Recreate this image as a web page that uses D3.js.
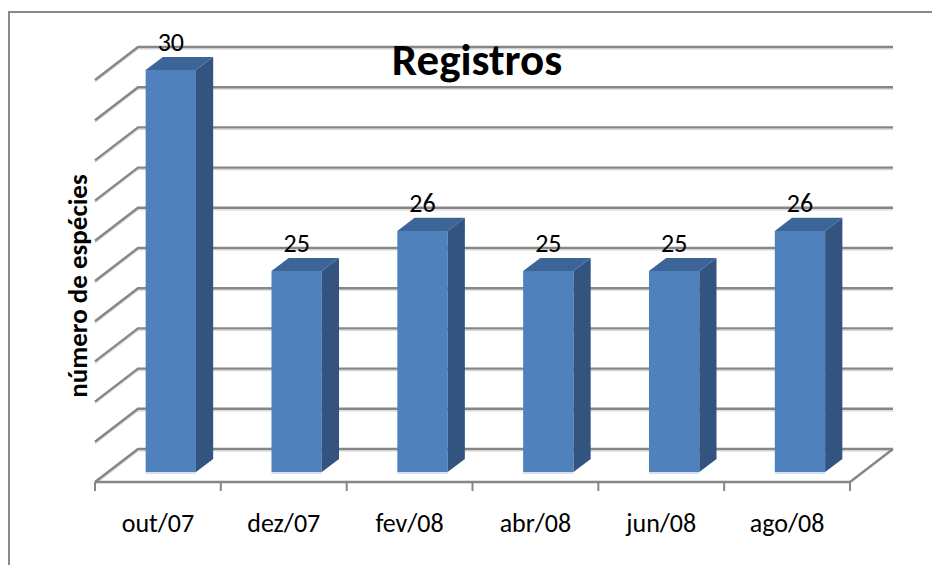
<!DOCTYPE html>
<meta charset="utf-8">
<head>
  <style>
    body { margin: 0; background: #fff; }
    text { font-family: Calibri, Carlito, Lato, sans-serif; fill: #000; }
  </style>
</head>
<body>
  <div class="chart"></div>
  <script src="https://d3js.org/d3.v7.min.js"></script>
  <script>
    // dados
    const categories = ["out/07", "dez/07", "fev/08", "abr/08", "jun/08", "ago/08"];
    const values = [30, 25, 26, 25, 25, 26];
    const yDomain = [20, 30];
    const titleText = "Registros";
    const yTitle = "número de espécies";

    var width = 932, height = 565;
    var depthX = 43, depthY = 33;   // deslocamento da profundidade 3D

    var svg = d3.select(".chart").append("svg")
      .attr("width", width)
      .attr("height", height);

    // borda da área do gráfico
    svg.append("rect")
      .attr("x", 9).attr("y", 12)
      .attr("width", 1000).attr("height", 1000)
      .attr("fill", "none")
      .attr("stroke", "#8a8a8a")
      .attr("stroke-width", 2);

    var x = d3.scaleBand().domain(categories).range([95, 850]);
    var y = d3.scaleLinear().domain(yDomain).range([449, 47]);
    var ticks = y.ticks(10);

    // ponto projetado: xf na frente, valor v, profundidade z (0 frente, 1 fundo)
    function P(xf, v, z) {
      return [xf + z * depthX, y(v) + (1 - z) * depthY];
    }

    var grid = svg.append("g");
    // sombra clara das linhas de grade
    grid.selectAll(".shadow")
      .data(ticks)
      .enter().append("path")
      .attr("d", function (v) {
        var a = P(95, v, 0), b = P(95, v, 1), c = P(850, v, 1);
        return "M" + (a[0]) + "," + (a[1] + 2) + "L" + b[0] + "," + (b[1] + 2) + "L" + c[0] + "," + (c[1] + 2);
      })
      .attr("fill", "none")
      .attr("stroke", "#d6d6d6")
      .attr("stroke-width", 1.2);

    // linhas de grade: parede lateral + parede do fundo
    grid.selectAll(".grid")
      .data(ticks)
      .enter().append("path")
      .attr("d", function (v) {
        var a = P(95, v, 0), b = P(95, v, 1), c = P(850, v, 1);
        return "M" + a + "L" + b + "L" + c;
      })
      .attr("fill", "none")
      .attr("stroke", "#868686")
      .attr("stroke-width", 2.4);

    // piso
    var f0 = P(95, yDomain[0], 0), f1 = P(850, yDomain[0], 0), f2 = P(850, yDomain[0], 1);
    svg.append("path")
      .attr("d", "M" + f0 + "L" + f1 + "L" + f2)
      .attr("fill", "none")
      .attr("stroke", "#868686")
      .attr("stroke-width", 2.4);

    // marcas do eixo x
    var bounds = categories.map(function (c) { return x(c); }).concat([x.range()[1]]);
    svg.selectAll(".tick")
      .data(bounds)
      .enter().append("line")
      .attr("x1", function (d) { return d; })
      .attr("x2", function (d) { return d; })
      .attr("y1", f0[1])
      .attr("y2", f0[1] + 9)
      .attr("stroke", "#868686")
      .attr("stroke-width", 2);

    // barras 3D
    var bw = x.bandwidth() * 0.4, z0 = 0.3, z1 = 0.7;
    var bar = svg.selectAll(".bar")
      .data(categories.map(function (c, i) { return { cat: c, value: values[i] }; }))
      .enter().append("g")
      .attr("class", "bar");

    function poly(pts) { return "M" + pts.join("L") + "Z"; }

    bar.append("path") // frente
      .attr("d", function (d) {
        var l = x(d.cat) + x.bandwidth() / 2 - bw / 2, r = l + bw;
        return poly([P(l, yDomain[0], z0), P(l, d.value, z0), P(r, d.value, z0), P(r, yDomain[0], z0)]);
      })
      .attr("fill", "#4f81bd");

    bar.append("path") // lado
      .attr("d", function (d) {
        var r = x(d.cat) + x.bandwidth() / 2 + bw / 2;
        return poly([P(r, yDomain[0], z0), P(r, d.value, z0), P(r, d.value, z1), P(r, yDomain[0], z1)]);
      })
      .attr("fill", "#32547e");

    bar.append("path") // topo
      .attr("d", function (d) {
        var l = x(d.cat) + x.bandwidth() / 2 - bw / 2, r = l + bw;
        return poly([P(l, d.value, z0), P(r, d.value, z0), P(r, d.value, z1), P(l, d.value, z1)]);
      })
      .attr("fill", "#3d6496");

    bar.append("line") // reflexo na base
      .attr("x1", function (d) { return P(x(d.cat) + x.bandwidth() / 2 - bw / 2, yDomain[0], z0)[0]; })
      .attr("x2", function (d) { return P(x(d.cat) + x.bandwidth() / 2 + bw / 2, yDomain[0], z0)[0]; })
      .attr("y1", P(0, yDomain[0], z0)[1] + 1)
      .attr("y2", P(0, yDomain[0], z0)[1] + 1)
      .attr("stroke", "#c8d6ea")
      .attr("stroke-width", 1.5);

    // rótulos de dados
    bar.append("text")
      .attr("x", function (d) { return P(x(d.cat) + x.bandwidth() / 2, d.value, z0)[0]; })
      .attr("y", function (d) { return P(0, d.value, z0)[1] - 19; })
      .attr("text-anchor", "middle")
      .style("font-size", "26px")
      .text(function (d) { return d.value; });

    // rótulos do eixo x
    svg.selectAll(".xlabel")
      .data(categories)
      .enter().append("text")
      .attr("x", function (d) { return x(d) + x.bandwidth() / 2; })
      .attr("y", 532)
      .attr("text-anchor", "middle")
      .style("font-size", "26px")
      .text(function (d) { return d; });

    // título
    svg.append("text")
      .attr("x", 477)
      .attr("y", 75)
      .attr("text-anchor", "middle")
      .style("font-size", "45px")
      .style("font-weight", "bold")
      .text(titleText);

    // título do eixo y
    svg.append("text")
      .attr("transform", "translate(87,286) rotate(-90)")
      .attr("text-anchor", "middle")
      .style("font-size", "27px")
      .style("font-weight", "bold")
      .text(yTitle);
  </script>
</body>
